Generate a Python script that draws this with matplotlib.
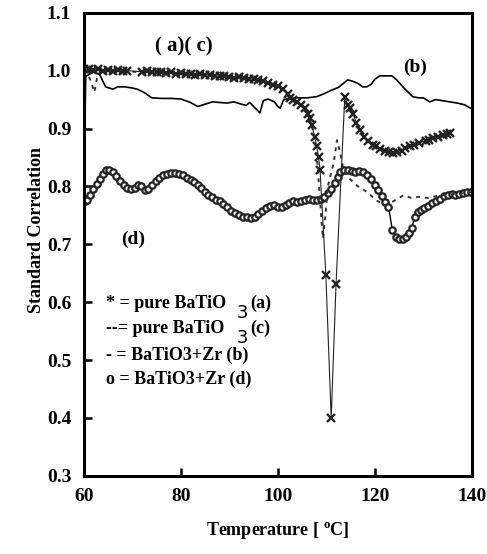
import matplotlib
matplotlib.use("Agg")
import matplotlib.pyplot as plt

plt.rcParams['font.family'] = ['Liberation Serif', 'DejaVu Serif']
plt.rcParams['font.weight'] = 'bold'

#
# curve (a): pure BaTiO3, x markers
#
temp_a = [60, 61, 62, 63, 64, 65, 66, 67, 68, 69, 72, 73, 74, 75, 76, 77, 78, 79,
          80, 81, 82, 83, 84, 85, 86, 87, 88, 89, 90, 91, 92, 93, 94, 95, 96, 97,
          98, 99, 100, 101, 102, 102.5, 103.2, 103.9, 104.8, 105.6, 106.2, 106.6,
          107, 107.6, 108, 108.4, 108.7, 109.9, 111, 112, 113.8, 114.4, 114.8,
          115.5, 116.2, 117, 117.8, 118.6, 119.6, 120.3, 121, 122, 123, 123.7,
          124.5, 125.5, 126.3, 127.2, 128, 129, 130.5, 131.2, 132, 133, 134,
          134.8, 135.5]
corr_a = [1.002, 1.003, 1.001, 1.002, 1.0, 1.001, 1.0, 1.001, 0.999, 1.0, 0.998,
          0.999, 0.997, 0.998, 0.997, 0.996, 0.997, 0.995, 0.996, 0.994, 0.995,
          0.993, 0.994, 0.992, 0.993, 0.991, 0.990, 0.991, 0.989, 0.988, 0.989,
          0.987, 0.986, 0.985, 0.984, 0.982, 0.979, 0.976, 0.973, 0.969, 0.96,
          0.953, 0.95, 0.946, 0.94, 0.936, 0.925, 0.919, 0.906, 0.886, 0.869,
          0.85, 0.829, 0.647, 0.40, 0.632, 0.955, 0.94, 0.936, 0.925, 0.91,
          0.898, 0.886, 0.878, 0.872, 0.869, 0.865, 0.862, 0.859, 0.858, 0.86,
          0.862, 0.866, 0.869, 0.872, 0.875, 0.879, 0.881, 0.884, 0.886, 0.889,
          0.891, 0.893]

#
# curve (c): pure BaTiO3, dashed
#
temp_c = [60, 60.6, 61.3, 62.2, 62.8, 63.5, 66, 70, 75, 80, 85, 90, 95, 98, 100,
          102, 104, 106, 107.5, 108, 108.5, 109, 109.3, 109.8, 110.3, 111.5,
          112.2, 112.8, 113.5, 114.5, 115.5, 116.5, 117.5, 118.5, 119.5, 120.5,
          122, 123, 124.5, 126, 127.5, 129, 131, 133, 135, 137, 140]
corr_c = [1.0, 0.998, 0.985, 0.963, 0.99, 0.999, 1.0, 0.998, 0.997, 0.995,
          0.993, 0.99, 0.986, 0.98, 0.974, 0.96, 0.945, 0.93, 0.89, 0.855, 0.80,
          0.74, 0.71, 0.75, 0.80, 0.84, 0.88, 0.86, 0.83, 0.815, 0.808, 0.80,
          0.795, 0.79, 0.782, 0.775, 0.768, 0.77, 0.778, 0.785, 0.78, 0.782,
          0.78, 0.784, 0.786, 0.787, 0.79]

#
# curve (b): BaTiO3+Zr, solid
#
temp_b = [60, 60.4, 62, 63.3, 64.5, 66, 67, 68.5, 70, 71, 72.5, 74, 76, 78, 80,
          82, 83.5, 85, 86.5, 88, 89.5, 91, 92.5, 93.5, 94.2, 96.3, 97, 98,
          99.3, 100, 100.5, 101.2, 102.5, 104, 106, 108, 109.5, 111, 112.5,
          113.5, 114.4, 115.3, 116.5, 117.5, 118.3, 119.2, 120, 121, 123.5,
          124.5, 126, 127.8, 129, 130, 131.3, 132.5, 134, 135.5, 137, 138.5,
          139.5, 140]
corr_b = [0.78, 0.99, 0.998, 0.993, 0.972, 0.968, 0.972, 0.972, 0.97, 0.968,
          0.962, 0.953, 0.952, 0.952, 0.951, 0.945, 0.938, 0.942, 0.946, 0.945,
          0.944, 0.946, 0.942, 0.94, 0.945, 0.927, 0.948, 0.951, 0.946, 0.938,
          0.935, 0.95, 0.952, 0.953, 0.953, 0.955, 0.96, 0.966, 0.971, 0.978,
          0.984, 0.982, 0.978, 0.972, 0.972, 0.976, 0.985, 0.991, 0.991, 0.984,
          0.97, 0.955, 0.953, 0.953, 0.946, 0.95, 0.948, 0.946, 0.944, 0.941,
          0.936, 0.934]

#
# curve (d): BaTiO3+Zr, open circles
#
temp_d = [60.2, 60.6, 61.2, 62, 62.7, 63.3, 64, 64.6, 65.3, 66, 66.7, 67.5, 68.3,
          69, 69.8, 70.5, 71.2, 71.9, 72.6, 73.3, 74, 74.8, 75.6, 76.4, 77.2, 78,
          78.8, 79.6, 80.4, 81.2, 82, 82.8, 83.5, 84.2, 84.9, 85.6, 86.4, 87.2,
          88, 88.8, 89.6, 90.4, 91.2, 92, 92.8, 93.6, 94.4, 95.2, 96, 96.8, 97.6,
          98.4, 99.2, 100, 100.8, 101.6, 102.4, 103.2, 104, 104.8, 105.6, 106.4,
          107.2, 108, 108.8, 109.6, 110.3, 111, 111.7, 112.3, 112.9, 113.6,
          114.4, 115.2, 116, 116.8, 117.6, 118.4, 119.2, 120, 120.7, 121.4,
          122.1, 122.8, 123.6, 124.4, 125, 125.7, 126.4, 127, 127.6, 128.2,
          128.8, 129.5, 130.2, 131, 131.8, 132.6, 133.4, 134.2, 135, 135.8,
          136.6, 137.4, 138.2, 139, 139.8]
corr_d = [0.775, 0.777, 0.785, 0.795, 0.805, 0.812, 0.822, 0.828, 0.829, 0.825,
          0.818, 0.81, 0.802, 0.798, 0.795, 0.797, 0.803, 0.801, 0.794, 0.796,
          0.802, 0.809, 0.815, 0.819, 0.822, 0.824, 0.824, 0.822, 0.819, 0.815,
          0.811, 0.807, 0.803, 0.797, 0.79, 0.785, 0.781, 0.777, 0.774, 0.769,
          0.764, 0.758, 0.754, 0.75, 0.748, 0.747, 0.745, 0.748, 0.753, 0.758,
          0.762, 0.766, 0.768, 0.765, 0.764, 0.768, 0.772, 0.774, 0.773, 0.775,
          0.776, 0.778, 0.777, 0.776, 0.778, 0.781, 0.788, 0.795, 0.806, 0.816,
          0.825, 0.829, 0.828, 0.826, 0.825, 0.826, 0.825, 0.82, 0.812, 0.803,
          0.793, 0.783, 0.773, 0.765, 0.725, 0.713, 0.709, 0.709, 0.713, 0.72,
          0.728, 0.747, 0.756, 0.76, 0.763, 0.766, 0.771, 0.775, 0.779, 0.783,
          0.786, 0.787, 0.785, 0.787, 0.789, 0.79, 0.791]

xticks = [60, 80, 100, 120, 140]
yticks = [0.3, 0.4, 0.5, 0.6, 0.7, 0.8, 0.9, 1.0, 1.1]

legend_lines = ["* = pure BaTiO ", "--= pure BaTiO ", "- = BaTiO3+Zr (b)",
                "o = BaTiO3+Zr (d)"]

fig = plt.figure(figsize=(4.87, 5.54), dpi=100)
ax = fig.add_axes([0.172, 0.141, 0.797, 0.836])

ax.plot(temp_b, corr_b, color="black", lw=1.2)
ax.plot(temp_d, corr_d, color="black", lw=1.0, marker="o", ms=4.6,
        mfc="white", mec="#222222", mew=1.6)
ax.plot(temp_c, corr_c, color="#333333", lw=1.4, linestyle=(0, (2, 2.5)))
ax.plot(temp_a, corr_a, color="#222222", lw=0.8, marker="x", ms=5.5, mew=1.7)

ax.set_xlim(60, 140)
ax.set_ylim(0.3, 1.1)
ax.set_xticks(xticks)
ax.set_yticks(yticks)
ax.set_xticklabels([str(v) for v in xticks])
ax.set_yticklabels(["%.1f" % v for v in yticks])

ax.tick_params(direction="in", length=6, width=1.8, labelsize=14)
ax.tick_params(axis="x", pad=9)
ax.tick_params(axis="y", pad=9)
for s in ax.spines.values():
    s.set_linewidth(2.2)

ax.set_xlabel("Temperature [ $\\mathregular{^{o}}$C]", fontsize=13,
              fontweight="bold")
ax.set_ylabel("Standard Correlation", fontsize=13, fontweight="bold")
ax.xaxis.set_label_coords(0.5, -0.095)
ax.yaxis.set_label_coords(-0.10, 0.53)

ax.text(74.6, 1.041, "( a)( c)", fontsize=15, fontweight="bold", va="center")
ax.text(128.2, 1.005, "(b)", fontsize=14, fontweight="bold", va="center",
        ha="center")
ax.text(70.1, 0.708, "(d)", fontsize=14, fontweight="bold", va="center",
        ha="center")

# legend written as plain text in the plot
leg_y = [0.598, 0.555, 0.509, 0.466]
for txt, yy in zip(legend_lines, leg_y):
    ax.text(64.5, yy, txt, fontsize=13, fontweight="bold", va="center")
ax.text(91.6, 0.582, "3", fontsize=13, fontweight="normal",
        family="DejaVu Sans", va="center")
ax.text(94.3, 0.598, "(a)", fontsize=13, fontweight="bold", va="center")
ax.text(91.6, 0.539, "3", fontsize=13, fontweight="normal",
        family="DejaVu Sans", va="center")
ax.text(94.3, 0.555, "(c)", fontsize=13, fontweight="bold", va="center")

fig.savefig("out.png", dpi=100)
